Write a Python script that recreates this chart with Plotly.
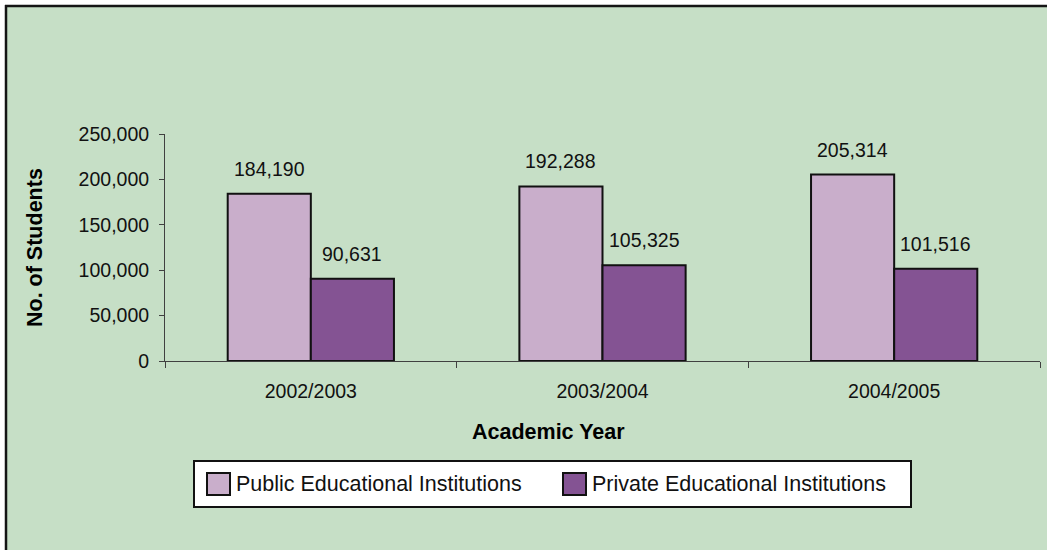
import plotly.graph_objects as go

# Student enrolment by academic year
years = ["2002/2003", "2003/2004", "2004/2005"]
public_students = [184190, 192288, 205314]
private_students = [90631, 105325, 101516]
series_names = ["Public Educational Institutions", "Private Educational Institutions"]

PUBLIC_COLOR = "#C9AECB"
PRIVATE_COLOR = "#845393"
BG_GREEN = "#C6DFC6"
FONT = "Liberation Sans, Arial, sans-serif"

W, H = 1047, 550
ML, MR, MT, MB = 165, 7, 134, 189
PW, PH = W - ML - MR, H - MT - MB
BARGAP = 0.43


def px_x(px):
    return (px - ML) / PW


def px_y(py):
    return (H - MB - py) / PH


fig = go.Figure()
for name, vals, col in [(series_names[0], public_students, PUBLIC_COLOR),
                        (series_names[1], private_students, PRIVATE_COLOR)]:
    fig.add_trace(go.Bar(
        x=years, y=vals, name=name, showlegend=False,
        marker=dict(color=col, line=dict(color="#111111", width=2)),
    ))

# value labels above each bar
cat_px = PW / len(years)
bar_px = cat_px * (1 - BARGAP) / 2
annotations = []
for vals, shift in [(public_students, -bar_px / 2), (private_students, bar_px / 2)]:
    for yr, v in zip(years, vals):
        annotations.append(dict(
            x=yr, y=v, xref="x", yref="y", text=f"{v:,}", showarrow=False,
            xshift=shift, yshift=12, yanchor="bottom", xanchor="center",
            font=dict(family=FONT, size=19.5, color="#111111"),
        ))

# axis titles
annotations.append(dict(
    x=px_x(548), y=px_y(432), xref="paper", yref="paper", text="<b>Academic Year</b>",
    showarrow=False, xanchor="center", yanchor="middle",
    font=dict(family=FONT, size=21.5, color="#000000"),
))
annotations.append(dict(
    x=px_x(35), y=px_y(248), xref="paper", yref="paper", text="<b>No. of Students</b>",
    showarrow=False, textangle=-90, xanchor="center", yanchor="middle",
    font=dict(family=FONT, size=21.5, color="#000000"),
))

shapes = [
    # chart area background with left/top frame
    dict(type="rect", xref="paper", yref="paper", x0=px_x(6), x1=px_x(1060),
         y0=px_y(6), y1=px_y(560), fillcolor=BG_GREEN, line=dict(width=0), layer="below"),
    dict(type="line", xref="paper", yref="paper", x0=px_x(6), x1=px_x(6),
         y0=px_y(5), y1=px_y(560), line=dict(color="#151515", width=2.5), layer="below"),
    dict(type="line", xref="paper", yref="paper", x0=px_x(5), x1=px_x(1060),
         y0=px_y(6), y1=px_y(6), line=dict(color="#151515", width=2.5), layer="below"),
    # legend box
    dict(type="rect", xref="paper", yref="paper", x0=px_x(194), x1=px_x(911),
         y0=px_y(461), y1=px_y(507), fillcolor="#FFFFFF",
         line=dict(color="#111111", width=2), layer="below"),
]

# legend entries
legend_items = [(series_names[0], PUBLIC_COLOR, 207), (series_names[1], PRIVATE_COLOR, 563)]
for name, col, sx in legend_items:
    shapes.append(dict(
        type="rect", xref="paper", yref="paper", x0=px_x(sx), x1=px_x(sx + 23),
        y0=px_y(473), y1=px_y(495), fillcolor=col,
        line=dict(color="#111111", width=2),
    ))
    annotations.append(dict(
        x=px_x(sx + 27), y=px_y(484), xref="paper", yref="paper", text=name,
        xanchor="left", yanchor="middle", showarrow=False,
        font=dict(family=FONT, size=21.5, color="#111111"),
    ))

fig.update_layout(
    width=W, height=H,
    margin=dict(l=ML, r=MR, t=MT, b=MB, pad=0),
    paper_bgcolor="#FFFFFF",
    plot_bgcolor="rgba(0,0,0,0)",
    barmode="group", bargap=BARGAP, bargroupgap=0,
    font=dict(family=FONT, color="#111111"),
    shapes=shapes, annotations=annotations,
    xaxis=dict(
        type="category", tickson="boundaries", ticks="outside", ticklen=6,
        tickcolor="#404040", showline=True, linecolor="#404040", linewidth=1,
        showgrid=False, zeroline=False, ticklabelstandoff=13,
        tickfont=dict(family=FONT, size=19.5, color="#111111"),
    ),
    yaxis=dict(
        range=[0, 250000], dtick=50000, tickformat=",", ticks="outside", ticklen=5,
        tickcolor="#404040", showline=True, linecolor="#404040", linewidth=1,
        showgrid=False, zeroline=False, ticklabelstandoff=6,
        tickfont=dict(family=FONT, size=19.5, color="#111111"),
    ),
)

fig.write_html("out.html")
